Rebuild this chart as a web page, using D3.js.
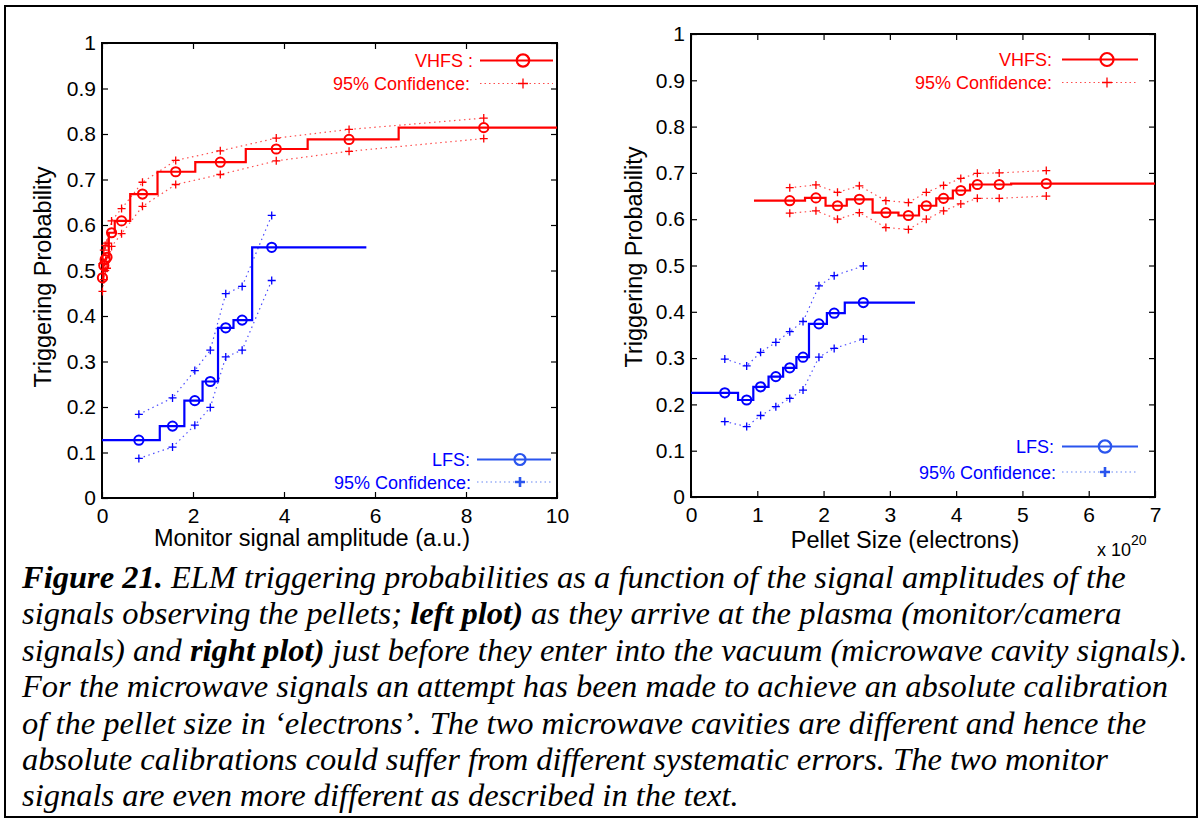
<!DOCTYPE html>
<html>
<head>
<meta charset="utf-8">
<script src="https://cdn.jsdelivr.net/npm/d3@7"></script>
<style>
  html, body { margin: 0; padding: 0; background: #fff; }
  svg { display: block; }
  .tick text { font-family: "Liberation Sans", Arial, sans-serif; font-size: 21px; fill: #000; }
</style>
</head>
<body>
<svg id="fig" width="1203" height="823"></svg>
<script>
// ---- Left panel: monitor signal amplitude (a.u.) ----
const vhfsMonBinEdges = [0, 0.02, 0.05, 0.09, 0.15, 0.28, 0.62, 1.22, 2.05, 3.16, 4.52, 6.52, 10];
const vhfsMonX    = [0.01, 0.04, 0.07, 0.11, 0.21, 0.43, 0.89, 1.62, 2.60, 3.83, 5.43, 8.39];
const vhfsMonProb = [0.484, 0.511, 0.524, 0.529, 0.583, 0.609, 0.668, 0.717, 0.738, 0.767, 0.788, 0.814];
const vhfsMonHi   = [0.515, 0.545, 0.555, 0.560, 0.609, 0.636, 0.694, 0.742, 0.763, 0.791, 0.810, 0.835];
const vhfsMonLo   = [0.454, 0.480, 0.500, 0.505, 0.553, 0.581, 0.641, 0.689, 0.711, 0.741, 0.762, 0.790];

const lfsMonBinEdges = [0, 1.27, 1.81, 2.21, 2.55, 2.89, 3.30, 5.81];
const lfsMonX    = [0.81, 1.55, 2.04, 2.38, 2.72, 3.08, 3.73];
const lfsMonProb = [0.127, 0.158, 0.214, 0.256, 0.374, 0.391, 0.551];
const lfsMonHi   = [0.184, 0.220, 0.280, 0.325, 0.449, 0.465, 0.621];
const lfsMonLo   = [0.087, 0.112, 0.160, 0.199, 0.310, 0.325, 0.478];

// ---- Right panel: pellet size (x 10^20 electrons) ----
const vhfsSizeBinEdges = [0.95, 1.72, 2.03, 2.35, 2.74, 3.13, 3.44, 3.70, 3.95, 4.21, 4.48, 4.83, 7];
const vhfsSizeX    = [1.49, 1.885, 2.21, 2.54, 2.94, 3.28, 3.55, 3.81, 4.07, 4.32, 4.65, 5.36];
const vhfsSizeProb = [0.640, 0.646, 0.629, 0.643, 0.614, 0.608, 0.629, 0.645, 0.662, 0.675, 0.675, 0.677];
const vhfsSizeHi   = [0.668, 0.674, 0.658, 0.672, 0.640, 0.636, 0.658, 0.673, 0.688, 0.699, 0.700, 0.705];
const vhfsSizeLo   = [0.613, 0.618, 0.600, 0.614, 0.582, 0.578, 0.600, 0.618, 0.633, 0.645, 0.645, 0.650];

const lfsSizeBinEdges = [0, 0.71, 0.94, 1.17, 1.39, 1.59, 1.78, 2.05, 2.32, 3.38];
const lfsSizeX    = [0.51, 0.84, 1.05, 1.28, 1.49, 1.69, 1.93, 2.16, 2.60];
const lfsSizeProb = [0.225, 0.2095, 0.238, 0.260, 0.279, 0.302, 0.374, 0.397, 0.420];
const lfsSizeHi   = [0.298, 0.283, 0.3125, 0.334, 0.357, 0.379, 0.456, 0.478, 0.499];
const lfsSizeLo   = [0.163, 0.152, 0.176, 0.195, 0.213, 0.231, 0.302, 0.321, 0.341];

// ---- Axis ticks and labels ----
const leftXTicks  = [0, 2, 4, 6, 8, 10];
const rightXTicks = [0, 1, 2, 3, 4, 5, 6, 7];
const probTicks   = [0, 0.1, 0.2, 0.3, 0.4, 0.5, 0.6, 0.7, 0.8, 0.9, 1];
const leftXTitle  = "Monitor signal amplitude (a.u.)";
const rightXTitle = "Pellet Size (electrons)";
const yTitle      = "Triggering Probability";
const vhfsLabels  = ["VHFS :", "VHFS:"];
const lfsLabel    = "LFS:";
const confLabel   = "95% Confidence:";

// ---- Caption lines (segments: [text, bold]) ----
const captionLines = [
  [["Figure 21.", true], [" ELM triggering probabilities as a function of the signal amplitudes of the", false]],
  [["signals observing the pellets; ", false], ["left plot)", true], [" as they arrive at the plasma (monitor/camera", false]],
  [["signals) and ", false], ["right plot)", true], [" just before they enter into the vacuum (microwave cavity signals).", false]],
  [["For the microwave signals an attempt has been made to achieve an absolute calibration", false]],
  [["of the pellet size in \u2018electrons\u2019. The two microwave cavities are different and hence the", false]],
  [["absolute calibrations could suffer from different systematic errors. The two monitor", false]],
  [["signals are even more different as described in the text.", false]]
];

const RED = "#ff0000";
const BLUE = "#0000ff";
const BLUE_LEG = "#2a55ee";
const SANS = '"Liberation Sans", Arial, Helvetica, sans-serif';

const svg = d3.select("#fig");

// outer frame
svg.append("rect").attr("x", 5).attr("y", 6).attr("width", 1192).attr("height", 811)
  .attr("fill", "none").attr("stroke", "#000").attr("stroke-width", 2);

function stepPoints(edges, vals) {
  const pts = [];
  vals.forEach((v, i) => { pts.push([edges[i], v]); pts.push([edges[i + 1], v]); });
  return pts;
}

function drawPanel(cfg) {
  const x = d3.scaleLinear().domain(cfg.xDomain).range([cfg.left, cfg.right]);
  const y = d3.scaleLinear().domain([0, 1]).range([cfg.bottom, cfg.top]);
  const g = svg.append("g");
  const fmt = d3.format("~g");

  // axes (MATLAB style: inward ticks on all four sides)
  const ax = [
    [d3.axisBottom(x).tickValues(cfg.xTicks).tickFormat(fmt), `translate(0,${cfg.bottom})`],
    [d3.axisTop(x).tickValues(cfg.xTicks).tickFormat(""), `translate(0,${cfg.top})`],
    [d3.axisLeft(y).tickValues(probTicks).tickFormat(fmt), `translate(${cfg.left},0)`],
    [d3.axisRight(y).tickValues(probTicks).tickFormat(""), `translate(${cfg.right},0)`]
  ];
  ax.forEach(([a, tr], i) => {
    a.tickSizeInner(-6).tickSizeOuter(0).tickPadding(i === 0 ? 10 : 6);
    const ag = g.append("g").attr("transform", tr).call(a);
    ag.select(".domain").remove();
    ag.selectAll(".tick line").attr("stroke", "#000").attr("stroke-width", 1.2);
  });
  g.append("rect").attr("x", cfg.left).attr("y", cfg.top)
    .attr("width", cfg.right - cfg.left).attr("height", cfg.bottom - cfg.top)
    .attr("fill", "none").attr("stroke", "#000").attr("stroke-width", 2);

  // axis titles
  g.append("text").attr("x", cfg.xTitleX).attr("y", cfg.xTitleY)
    .attr("text-anchor", "middle").attr("font-family", SANS).attr("font-size", 23.5)
    .text(cfg.xTitle);
  g.append("text")
    .attr("transform", `translate(${cfg.yTitleX},${cfg.yTitleY}) rotate(-90)`)
    .attr("text-anchor", "middle").attr("font-family", SANS).attr("font-size", 23.5)
    .text(yTitle);

  const line = d3.line().x(d => x(d[0])).y(d => y(d[1]));

  cfg.series.forEach(s => {
    // confidence bounds
    [s.hi, s.lo].forEach(b => {
      const pts = s.x.map((xv, i) => [xv, b[i]]);
      g.append("path").attr("d", line(pts)).attr("fill", "none")
        .attr("stroke", s.color).attr("stroke-width", 1.2).attr("stroke-opacity", 0.7)
        .attr("stroke-dasharray", "1.5,3.5");
      g.selectAll(null).data(pts).enter().append("path")
        .attr("d", d => `M${x(d[0]) - 4},${y(d[1])}h8M${x(d[0])},${y(d[1]) - 4}v8`)
        .attr("stroke", s.color).attr("stroke-width", 1.3);
    });
    // step probability
    g.append("path").attr("d", line(stepPoints(s.edges, s.prob))).attr("fill", "none")
      .attr("stroke", s.color).attr("stroke-width", 2.2);
    g.selectAll(null).data(s.x.map((xv, i) => [xv, s.prob[i]])).enter().append("circle")
      .attr("cx", d => x(d[0])).attr("cy", d => y(d[1])).attr("r", 4.6)
      .attr("fill", "none").attr("stroke", s.color).attr("stroke-width", 2);
  });

  // legends
  cfg.legends.forEach(L => {
    g.append("text").attr("x", L.textX).attr("y", L.y1 + 6.5).attr("text-anchor", "end")
      .attr("font-family", SANS).attr("font-size", 18).attr("fill", L.color).text(L.label);
    g.append("line").attr("x1", L.lx1).attr("x2", L.lx2).attr("y1", L.y1).attr("y2", L.y1)
      .attr("stroke", L.lineColor).attr("stroke-width", 2.2);
    g.append("circle").attr("cx", L.mx).attr("cy", L.y1).attr("r", L.r)
      .attr("fill", "none").attr("stroke", L.lineColor).attr("stroke-width", 2.2);
    g.append("text").attr("x", L.textX2).attr("y", L.y2 + 6.5).attr("text-anchor", "end")
      .attr("font-family", SANS).attr("font-size", 18).attr("fill", L.color).text(confLabel);
    g.append("line").attr("x1", L.lx1).attr("x2", L.lx2).attr("y1", L.y2).attr("y2", L.y2)
      .attr("stroke", L.lineColor).attr("stroke-width", 1.1).attr("stroke-opacity", 0.7)
      .attr("stroke-dasharray", "1.5,3");
    g.append("path").attr("d", `M${L.mx - 5},${L.y2}h10M${L.mx},${L.y2 - 5}v10`)
      .attr("stroke", L.lineColor).attr("stroke-width", L.plusW);
  });
  return { x, y, g };
}

drawPanel({
  xDomain: [0, 10], left: 102, right: 557, top: 43, bottom: 498,
  xTicks: leftXTicks, xTitle: leftXTitle, xTitleX: 312, xTitleY: 546, yTitleX: 51, yTitleY: 277,
  series: [
    { edges: vhfsMonBinEdges, x: vhfsMonX, prob: vhfsMonProb, hi: vhfsMonHi, lo: vhfsMonLo, color: RED },
    { edges: lfsMonBinEdges, x: lfsMonX, prob: lfsMonProb, hi: lfsMonHi, lo: lfsMonLo, color: BLUE }
  ],
  legends: [
    { label: vhfsLabels[0], color: RED, lineColor: RED, textX: 473, textX2: 470, y1: 60.5, y2: 83.5,
      lx1: 480, lx2: 553, mx: 523, r: 6.2, plusW: 1.3 },
    { label: lfsLabel, color: BLUE, lineColor: BLUE_LEG, textX: 470, textX2: 471, y1: 459.5, y2: 482,
      lx1: 477, lx2: 551, mx: 520, r: 5.5, plusW: 2.6 }
  ]
});

drawPanel({
  xDomain: [0, 7], left: 691, right: 1155, top: 34, bottom: 497,
  xTicks: rightXTicks, xTitle: rightXTitle, xTitleX: 905, xTitleY: 548, yTitleX: 642, yTitleY: 257,
  series: [
    { edges: vhfsSizeBinEdges, x: vhfsSizeX, prob: vhfsSizeProb, hi: vhfsSizeHi, lo: vhfsSizeLo, color: RED },
    { edges: lfsSizeBinEdges, x: lfsSizeX, prob: lfsSizeProb, hi: lfsSizeHi, lo: lfsSizeLo, color: BLUE }
  ],
  legends: [
    { label: vhfsLabels[1], color: RED, lineColor: RED, textX: 1052, textX2: 1052, y1: 59.5, y2: 82.5,
      lx1: 1062, lx2: 1138, mx: 1107, r: 6.5, plusW: 1.3 },
    { label: lfsLabel, color: BLUE, lineColor: BLUE_LEG, textX: 1054, textX2: 1056, y1: 446.5, y2: 472,
      lx1: 1062, lx2: 1138, mx: 1105, r: 6.2, plusW: 2.6 }
  ]
});

// exponent label for the pellet-size axis
const expo = svg.append("text").attr("x", 1097).attr("y", 556)
  .attr("font-family", SANS).attr("font-size", 18);
expo.append("tspan").text("x 10");
expo.append("tspan").attr("dy", -11).attr("font-size", 14).text("20");

// caption
const cap = svg.append("g").attr("font-family", '"Liberation Serif", "Times New Roman", serif')
  .attr("font-style", "italic").attr("font-size", 32.5);
captionLines.forEach((segs, i) => {
  const t = cap.append("text").attr("x", 22).attr("y", 588 + i * 36.4);
  segs.forEach(([s, b]) => t.append("tspan").attr("font-weight", b ? "bold" : "normal").text(s));
});
</script>
</body>
</html>
